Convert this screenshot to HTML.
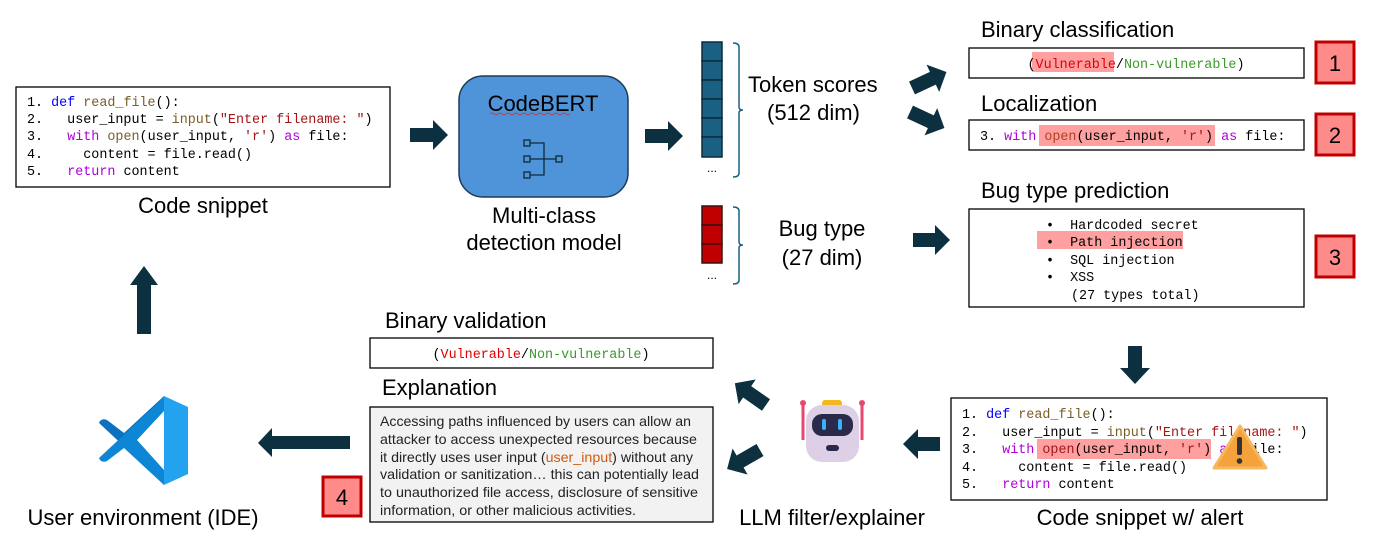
<!DOCTYPE html>
<html><head><meta charset="utf-8"><style>
body{margin:0;background:#fff}
svg{display:block}
text{white-space:pre}
.m{font-family:"Liberation Mono",monospace;font-size:13.4px;fill:#000}
.s{font-family:"Liberation Sans",sans-serif;font-size:22px;fill:#000}
.e{font-family:"Liberation Sans",sans-serif;font-size:14px;fill:#222}
.kb{fill:#0000ff}.kp{fill:#af00db}.fn{fill:#795e26}.st{fill:#a31515}.rd{fill:#e00000}.gr{fill:#3a9a2a}
.ar{fill:#0d3040}
.bd{fill:#ff8a8a;stroke:#c00000;stroke-width:3}
.bx{fill:#fff;stroke:#000;stroke-width:1.3}
</style></head><body>
<svg width="1373" height="543" xmlns="http://www.w3.org/2000/svg">
<!-- Code snippet -->
<rect class="bx" x="16" y="87" width="374" height="100"/>
<text class="m" x="27" y="106">1. <tspan class="kb">def</tspan> <tspan class="fn">read_file</tspan>():</text>
<text class="m" x="27" y="123">2.   user_input = <tspan class="fn">input</tspan>(<tspan class="st">"Enter filename: "</tspan>)</text>
<text class="m" x="27" y="140">3.   <tspan class="kp">with</tspan> <tspan class="fn">open</tspan>(user_input, <tspan class="st">'r'</tspan>) <tspan class="kp">as</tspan> file:</text>
<text class="m" x="27" y="158">4.     content = file.read()</text>
<text class="m" x="27" y="175">5.   <tspan class="kp">return</tspan> content</text>
<text class="s" x="203" y="213" text-anchor="middle">Code snippet</text>

<polygon class="ar" points="410,128 433,128 433,120 448,135 433,150 433,142 410,142"/>

<!-- CodeBERT -->
<rect x="459" y="76" width="169" height="121" rx="24" fill="#4f93d8" stroke="#1f3b5a" stroke-width="1.5"/>
<text class="s" x="543" y="111" text-anchor="middle" fill="#000">CodeBERT</text>
<path d="M490,114 q2,-2 4,0 t4,0 t4,0 t4,0 t4,0 t4,0 t4,0 t4,0 t4,0 t4,0 t4,0 t4,0 t4,0 t4,0 t4,0 t4,0 t4,0 t4,0 t4,0 t4,0" stroke="#d03030" fill="none" stroke-width="0.8"/>
<g stroke="#0d2b3a" fill="none" stroke-width="1.3">
<rect x="524" y="140" width="6" height="6"/><rect x="524" y="156" width="6" height="6"/><rect x="524" y="172" width="6" height="6"/><rect x="556" y="156" width="6" height="6"/>
<path d="M530,143 H544 V175 H530 M530,159 H556"/>
</g>
<text class="s" x="544" y="223" text-anchor="middle">Multi-class</text>
<text class="s" x="544" y="250" text-anchor="middle">detection model</text>

<polygon class="ar" points="645,129 668,129 668,121 683,136 668,151 668,143 645,143"/>

<!-- Token column -->
<g fill="#1a6082" stroke="#0d2b3a" stroke-width="1.5">
<rect x="702" y="42" width="20" height="19"/><rect x="702" y="61" width="20" height="19"/><rect x="702" y="80" width="20" height="19"/><rect x="702" y="99" width="20" height="19"/><rect x="702" y="118" width="20" height="19"/><rect x="702" y="137" width="20" height="20"/>
</g>
<text class="s" x="712" y="172" text-anchor="middle" style="font-size:12px">...</text>
<path d="M733,43 q6,0 6,4 V107 q0,3 4,3 q-4,0 -4,3 V173 q0,4 -6,4" stroke="#1a6082" fill="none" stroke-width="1.5"/>
<text class="s" x="748" y="92">Token scores</text>
<text class="s" x="767" y="120">(512 dim)</text>

<g fill="#c00000" stroke="#3a1010" stroke-width="1.5">
<rect x="702" y="206" width="20" height="19"/><rect x="702" y="225" width="20" height="19"/><rect x="702" y="244" width="20" height="19"/>
</g>
<text class="s" x="712" y="279" text-anchor="middle" style="font-size:12px">...</text>
<path d="M733,207 q6,0 6,4 V242 q0,3 4,3 q-4,0 -4,3 V280 q0,4 -6,4" stroke="#1a6082" fill="none" stroke-width="1.5"/>
<text class="s" x="822" y="236" text-anchor="middle">Bug type</text>
<text class="s" x="822" y="265" text-anchor="middle">(27 dim)</text>

<!-- diagonal arrows -->
<polygon class="ar" points="0,-7 23,-7 23,-15 38,0 23,15 23,7 0,7" transform="translate(912,88) rotate(-25)"/>
<polygon class="ar" points="0,-7 23,-7 23,-15 38,0 23,15 23,7 0,7" transform="translate(910,112) rotate(25)"/>
<polygon class="ar" points="913,233 935,233 935,225 950,240 935,255 935,247 913,247"/>

<!-- Right column -->
<text class="s" x="981" y="37">Binary classification</text>
<rect class="bx" x="969" y="48" width="335" height="30"/>
<rect x="1032" y="52" width="82" height="20" fill="#ffa0a0"/>
<text class="m" x="1136" y="68" text-anchor="middle">(<tspan class="rd">Vulnerable</tspan>/<tspan class="gr">Non-vulnerable</tspan>)</text>
<rect class="bd" x="1316" y="42" width="38" height="41"/>
<text class="s" x="1335" y="71" text-anchor="middle">1</text>

<text class="s" x="981" y="111">Localization</text>
<rect class="bx" x="969" y="120" width="335" height="30"/>
<rect x="1039" y="125" width="176" height="21" fill="#ffa0a0"/>
<text class="m" x="980" y="140">3. <tspan class="kp">with</tspan> <tspan style="fill:#b04020">open</tspan>(user_input, <tspan class="st">'r'</tspan>) <tspan class="kp">as</tspan> file:</text>
<rect class="bd" x="1316" y="114" width="38" height="41"/>
<text class="s" x="1335" y="143" text-anchor="middle">2</text>

<text class="s" x="981" y="198">Bug type prediction</text>
<rect class="bx" x="969" y="209" width="335" height="98"/>
<rect x="1037" y="231" width="146" height="18" fill="#ffa0a0"/>
<text class="m" x="1046" y="229">•  Hardcoded secret</text>
<text class="m" x="1046" y="246">•  Path injection</text>
<text class="m" x="1046" y="264">•  SQL injection</text>
<text class="m" x="1046" y="281">•  XSS</text>
<text class="m" x="1071" y="299">(27 types total)</text>
<rect class="bd" x="1316" y="236" width="38" height="41"/>
<text class="s" x="1335" y="265" text-anchor="middle">3</text>

<polygon class="ar" points="1128,346 1142,346 1142,368 1150,368 1135,384 1120,368 1128,368"/>

<!-- Code snippet w/ alert -->
<rect class="bx" x="951" y="398" width="376" height="102"/>
<rect x="1037" y="439" width="174" height="20" fill="#ffa0a0"/>
<text class="m" x="962" y="418">1. <tspan class="kb">def</tspan> <tspan class="fn">read_file</tspan>():</text>
<text class="m" x="962" y="436">2.   user_input = <tspan class="fn">input</tspan>(<tspan class="st">"Enter filename: "</tspan>)</text>
<text class="m" x="962" y="453">3.   <tspan class="kp">with</tspan> <tspan class="st">open</tspan>(user_input, <tspan class="st">'r'</tspan>) <tspan class="kp">as</tspan> file:</text>
<text class="m" x="962" y="471">4.     content = file.read()</text>
<text class="m" x="962" y="488">5.   <tspan class="kp">return</tspan> content</text>
<polygon points="1240,426 1266,468 1214,468" fill="#f6a23a" stroke="#f4b860" stroke-width="3" stroke-linejoin="round"/>
<rect x="1237" y="437" width="5" height="18" rx="2" fill="#333"/>
<circle cx="1239.5" cy="461" r="2.8" fill="#333"/>
<text class="s" x="1140" y="525" text-anchor="middle">Code snippet w/ alert</text>

<polygon class="ar" points="940,437 918,437 918,429 903,444 918,459 918,451 940,451"/>

<!-- Robot -->
<rect x="822" y="400" width="20" height="7" rx="3" fill="#f5b820"/>
<line x1="803" y1="404" x2="803" y2="440" stroke="#e84870" stroke-width="3"/>
<line x1="862" y1="404" x2="862" y2="440" stroke="#e84870" stroke-width="3"/>
<circle cx="803" cy="403" r="3" fill="#e84870"/><circle cx="862" cy="403" r="3" fill="#e84870"/>
<rect x="806" y="405" width="53" height="57" rx="16" fill="#ddd0e6"/>
<rect x="812" y="414" width="41" height="22" rx="10" fill="#2a2a4a"/>
<rect x="822" y="419" width="4" height="11" rx="2" fill="#3ab0ff"/><rect x="838" y="419" width="4" height="11" rx="2" fill="#3ab0ff"/>
<rect x="826" y="445" width="13" height="6" rx="3" fill="#2a2a4a"/>
<text class="s" x="832" y="525" text-anchor="middle">LLM filter/explainer</text>

<polygon class="ar" points="0,-7 23,-7 23,-15 38,0 23,15 23,7 0,7" transform="translate(766,405) rotate(-145)"/>
<polygon class="ar" points="0,-7 23,-7 23,-15 38,0 23,15 23,7 0,7" transform="translate(760,450) rotate(150)"/>

<!-- Validation / Explanation -->
<text class="s" x="385" y="328">Binary validation</text>
<rect class="bx" x="370" y="338" width="343" height="30"/>
<text class="m" x="541" y="358" text-anchor="middle">(<tspan class="rd">Vulnerable</tspan>/<tspan class="gr">Non-vulnerable</tspan>)</text>
<text class="s" x="382" y="395">Explanation</text>
<rect x="370" y="407" width="343" height="115" fill="#f2f2f2" stroke="#000" stroke-width="1.3"/>
<text class="e" x="380" y="426" textLength="311" lengthAdjust="spacingAndGlyphs">Accessing paths influenced by users can allow an</text>
<text class="e" x="380" y="444" textLength="317" lengthAdjust="spacingAndGlyphs">attacker to access unexpected resources because</text>
<text class="e" x="380" y="462" textLength="313" lengthAdjust="spacingAndGlyphs">it directly uses user input (<tspan fill="#d05a10">user_input</tspan>) without any</text>
<text class="e" x="380" y="479" textLength="319" lengthAdjust="spacingAndGlyphs">validation or sanitization… this can potentially lead</text>
<text class="e" x="380" y="497" textLength="318" lengthAdjust="spacingAndGlyphs">to unauthorized file access, disclosure of sensitive</text>
<text class="e" x="380" y="515" textLength="256" lengthAdjust="spacingAndGlyphs">information, or other malicious activities.</text>
<rect class="bd" x="323" y="477" width="38" height="39"/>
<text class="s" x="342" y="505" text-anchor="middle">4</text>

<polygon class="ar" points="350,436 272,436 272,428 258,443 272,457 272,449 350,449"/>

<!-- VS Code icon -->
<path d="M164,396 L188,407 V474 L164,485 Z" fill="#22a2ef"/>
<path d="M164,396 L124,433 L107,420 Q103,418 100,421 L99,423 L158,478 L164,485 Z" fill="#0a72c0"/>
<path d="M164,485 L124,448 L107,461 Q103,463 100,460 L99,458 L158,403 L164,396 Z" fill="#0e86d6"/>
<path d="M164,411 L164,470 L137,440 Z" fill="#fff"/>
<text class="s" x="143" y="525" text-anchor="middle">User environment (IDE)</text>

<polygon class="ar" points="137,334 151,334 151,285 158,285 144,266 130,285 137,285"/>
</svg>
</body></html>
